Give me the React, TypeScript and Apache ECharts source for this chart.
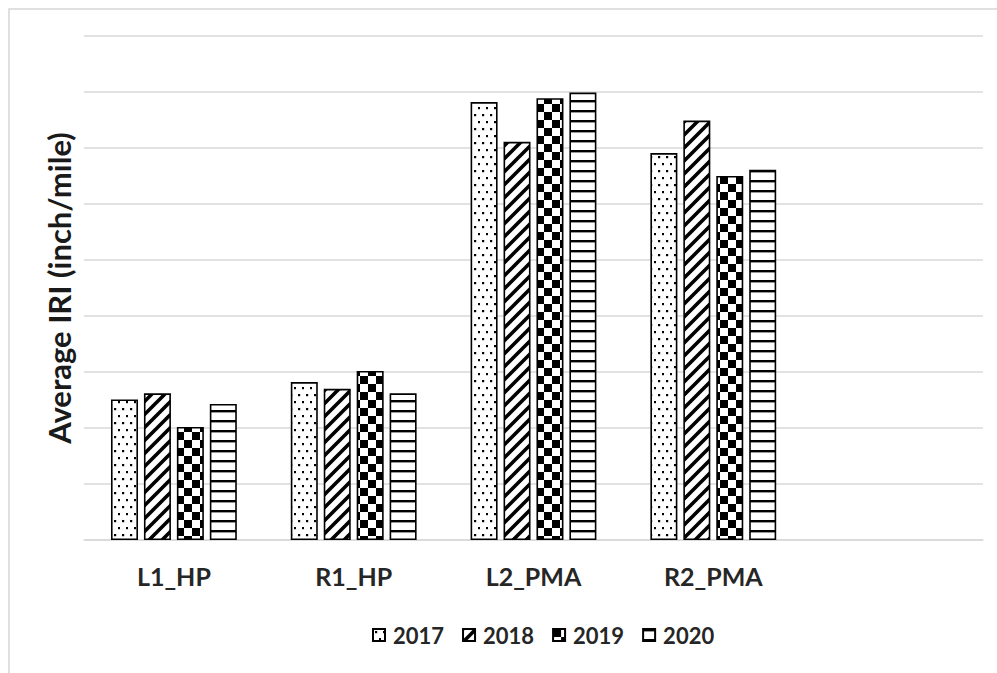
import React, { useEffect, useRef } from "react";
import * as echarts from "echarts";

const categories = ["L1_HP", "R1_HP", "L2_PMA", "R2_PMA", ""];
const years = ["2017", "2018", "2019", "2020"];
const values2017 = [2.51, 2.82, 7.82, 6.91];
const values2018 = [2.62, 2.7, 7.11, 7.49];
const values2019 = [2.02, 3.02, 7.89, 6.5];
const values2020 = [2.43, 2.62, 7.99, 6.61];
const seriesValues = [values2017, values2018, values2019, values2020];
const yTicks = { min: 0, max: 9, interval: 1 };

const FONT = "Lato";

function svgUrl(w: number, h: number, body: string) {
  const svg = `<svg xmlns='http://www.w3.org/2000/svg' width='${w}' height='${h}'><rect width='${w}' height='${h}' fill='white'/>${body}</svg>`;
  return "data:image/svg+xml;charset=utf-8," + encodeURIComponent(svg);
}

const patterns = [
  {
    image: svgUrl(8, 14, "<rect x='2' y='2' width='2.2' height='2.2' fill='black'/><rect x='6' y='9' width='2.2' height='2.2' fill='black'/>"),
    repeat: "repeat",
    imageWidth: 8,
    imageHeight: 14,
  },
  {
    image: svgUrl(
      13,
      13,
      "<path d='M-4,4 L4,-4 M0,13 L13,0 M9,17 L17,9' stroke='black' stroke-width='3.6'/>"
    ),
    repeat: "repeat",
    imageWidth: 13,
    imageHeight: 13,
  },
  {
    image: svgUrl(16, 16, "<rect x='0' y='0' width='8' height='8' fill='black'/><rect x='8' y='8' width='8' height='8' fill='black'/>"),
    repeat: "repeat",
    imageWidth: 16,
    imageHeight: 16,
  },
  {
    image: svgUrl(10, 10, "<rect x='0' y='0' width='10' height='2.4' fill='black'/>"),
    repeat: "repeat",
    imageWidth: 10,
    imageHeight: 10,
  },
];

export default function App() {
  const ref = useRef<HTMLDivElement>(null);
  useEffect(() => {
    if (!ref.current) return;
    const chart = echarts.init(ref.current, null, { renderer: "svg" });
    chart.setOption({
      animation: false,
      backgroundColor: "#ffffff",
      graphic: [
        {
          type: "rect",
          shape: { x: 9, y: 9, width: 1100, height: 800 },
          style: { fill: "none", stroke: "#d6d6d6", lineWidth: 1.5 },
          silent: true,
        },
      ],
      grid: { left: 84, right: 14, top: 36, bottom: 133 },
      legend: {
        data: years,
        left: 367,
        top: 619,
        icon: "rect",
        itemWidth: 12,
        itemHeight: 12,
        itemGap: 18,
        textStyle: { fontFamily: FONT, fontWeight: "bold", fontSize: 22, color: "#262626", padding: [0, 0, 0, 3] },
      },
      xAxis: {
        type: "category",
        data: categories,
        axisLine: { lineStyle: { color: "#d9d9d9", width: 1.5 } },
        axisTick: { show: false },
        axisLabel: { fontFamily: FONT, fontWeight: "bold", fontSize: 25, color: "#262626", margin: 23 },
      },
      yAxis: {
        type: "value",
        min: yTicks.min,
        max: yTicks.max,
        interval: yTicks.interval,
        axisLabel: { show: false },
        axisLine: { show: false },
        axisTick: { show: false },
        splitLine: { lineStyle: { color: "#d9d9d9", width: 1.5 } },
        name: "Average IRI (inch/mile)",
        nameLocation: "middle",
        nameGap: 10,
        nameTextStyle: { fontFamily: FONT, fontWeight: "bold", fontSize: 31, color: "#1a1a1a" },
      },
      series: years.map((y, i) => ({
        name: y,
        type: "bar",
        data: seriesValues[i],
        barWidth: 27,
        barGap: "22%",
        itemStyle: { color: patterns[i], borderColor: "#000000", borderWidth: 1.6 },
      })),
    });
    return () => chart.dispose();
  }, []);
  return <div ref={ref} style={{ position: "fixed", left: 0, top: 0, width: 997, height: 673 }} />;
}
